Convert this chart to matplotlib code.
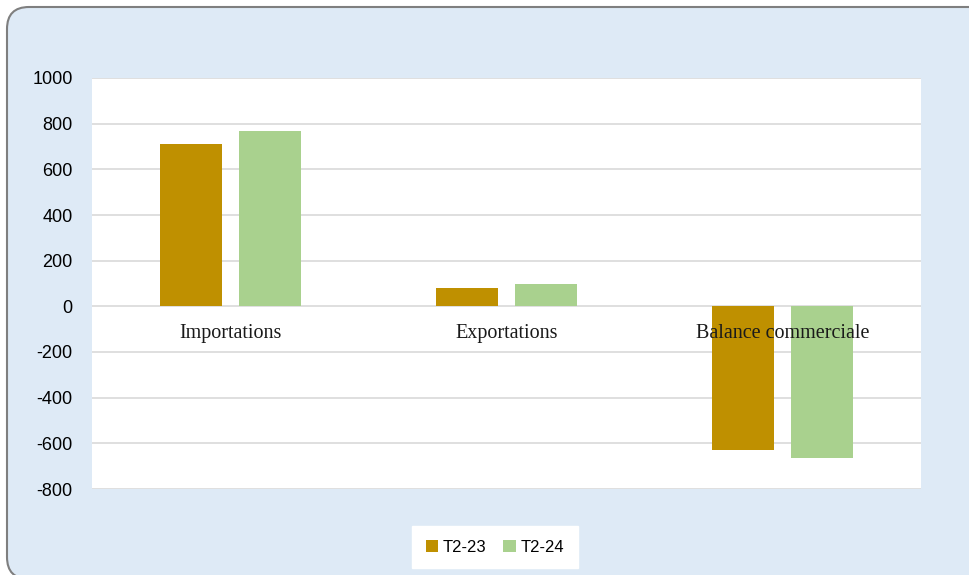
import numpy as np
import matplotlib
matplotlib.use("Agg")
import matplotlib.pyplot as plt
from matplotlib.patches import FancyBboxPatch
from matplotlib.transforms import IdentityTransform

categories = ["Importations", "Exportations", "Balance commerciale"]
t2_23 = [710, 80, -630]
t2_24 = [770, 100, -665]
series_names = ["T2-23", "T2-24"]
colors = ["#BF9000", "#A9D18E"]
yticks = [-800, -600, -400, -200, 0, 200, 400, 600, 800, 1000]

fig = plt.figure(figsize=(9.69, 5.75), dpi=100, facecolor="white")

# rounded light blue frame (pixel coords), runs off the right and bottom edges
frame = FancyBboxPatch((7, -4), 1000, 572, boxstyle="round,pad=0,rounding_size=22",
                       transform=IdentityTransform(), facecolor="#DEEAF6",
                       edgecolor="#7F7F7F", linewidth=1.5, zorder=-5)
fig.add_artist(frame)

ax = fig.add_axes([92 / 969, 86 / 575, 829 / 969, 411 / 575])
ax.set_facecolor("white")

x = np.arange(len(categories))
w = 0.224
off = 0.143
ax.bar(x - off, t2_23, w, color=colors[0], label=series_names[0], zorder=3)
ax.bar(x + off, t2_24, w, color=colors[1], label=series_names[1], zorder=3)

ax.set_xlim(-0.5, 2.5)
ax.set_ylim(-800, 1000)
ax.set_yticks(yticks)
ax.set_yticklabels([str(v) for v in yticks], family="Liberation Sans", fontsize=13)
ax.tick_params(axis="y", length=0, pad=14)
ax.tick_params(axis="x", length=0, labelbottom=False)
ax.grid(axis="y", color="#D9D9D9", linewidth=1.2, zorder=0)
ax.set_axisbelow(True)
for s in ax.spines.values():
    s.set_visible(False)

for i, c in enumerate(categories):
    ax.annotate(c, (i, 0), xytext=(0, -12.5), textcoords="offset points",
                ha="center", va="top", family="Liberation Serif",
                fontsize=14.5, color="#1a1a1a", zorder=5)

leg = fig.legend(loc="center", bbox_to_anchor=(495 / 969, 1 - 547 / 575),
                 ncol=2, frameon=True, fancybox=False, edgecolor="white",
                 facecolor="white", framealpha=1,
                 prop={"family": "Liberation Sans", "size": 12},
                 handlelength=0.75, handleheight=0.75, handletextpad=0.3,
                 columnspacing=1.0, borderpad=0.8)

fig.savefig("out.png", dpi=100)
